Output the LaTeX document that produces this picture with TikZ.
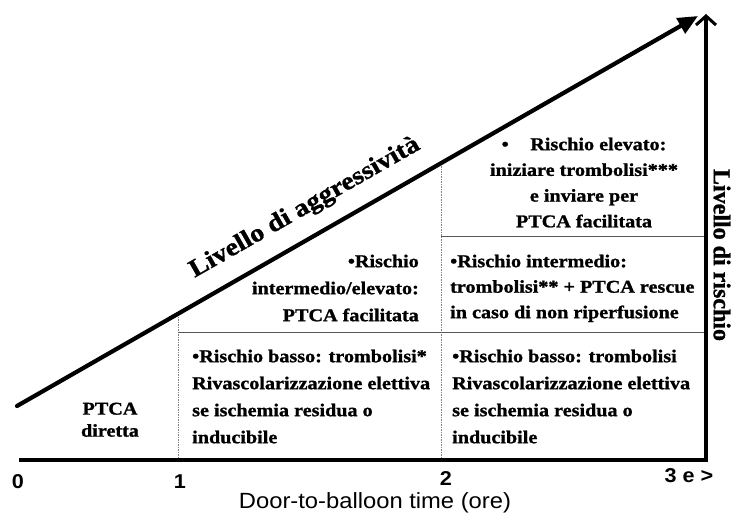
\documentclass[tikz,border=0pt]{standalone}
\usepackage{fontspec}
\setmainfont{Liberation Serif}[FakeStretch=1.12, BoldFeatures={FakeBold=1.2}]
\newfontfamily\vserif{Liberation Serif}[BoldFeatures={FakeBold=1.2}]
\newfontfamily\sansw{Liberation Sans}[FakeStretch=1.08]
\usetikzlibrary{arrows.meta}
\tikzset{
  axisline/.style={line width=3.6pt},
  gridline/.style={line width=0.9pt, black!65},
  dotgrid/.style={line width=0.8pt, black!50, dash pattern=on 1.5pt off 1pt},
  txt/.style={inner sep=0pt, font=\bfseries\fontsize{18}{27}\selectfont},
  ticklab/.style={inner sep=0pt, font=\sansw\bfseries\fontsize{20}{24}\selectfont},
  biglab/.style={inner sep=0pt, font=\bfseries\fontsize{25}{28}\selectfont}
}
\begin{document}
\begin{tikzpicture}[x=1pt,y=-1pt]
\useasboundingbox (0,0) rectangle (733,513);
% key points
\coordinate (o) at (19,460);
\coordinate (c) at (706,460);
\coordinate (vt) at (706,14);
\coordinate (ds) at (17,406);
\coordinate (dt) at (698,16);
\coordinate (d1) at (178,314);
\coordinate (b1) at (178,460);
\coordinate (d2) at (441,164);
\coordinate (b2) at (441,460);
\coordinate (h1l) at (178,332);
\coordinate (h1r) at (706,332);
\coordinate (h2l) at (441,236);
\coordinate (h2r) at (706,236);
% grid lines
\draw[dotgrid] (d1) -- (b1);
\draw[dotgrid] (d2) -- (b2);
\draw[gridline] (h1l) -- (h1r);
\draw[gridline] (h2l) -- (h2r);
% axes
\draw[axisline, -{Straight Barb[length=9pt,width=20pt,line width=3pt]}] (o) -- (c) -- (vt);
\draw[line width=4.2pt, line cap=round, -{Triangle[length=20pt,width=17pt]}] (ds) -- (dt);
% labels
\node[biglab, rotate=29.7] (aggr) at (305,208) {Livello di aggressività};
\node[biglab, font=\vserif\bfseries\fontsize{24}{28}\selectfont, rotate=-90] (risk) at (722,255) {Livello di rischio};
\node[txt, font=\bfseries\fontsize{18}{22}\selectfont, align=center, anchor=north] (pd) at (110,402.5) {PTCA\\diretta};
\node[txt, align=right, anchor=north east] (ie) at (419,254.5) {•Rischio\\intermedio/elevato:\\PTCA facilitata};
\node[txt, align=left, anchor=north west] (bl) at (192,349.5) {•Rischio basso: trombolisi*\\Rivascolarizzazione elettiva\\se ischemia residua o\\inducibile};
\node[txt, align=left, anchor=north west] (br) at (452,349.5) {•Rischio basso: trombolisi\\Rivascolarizzazione elettiva\\se ischemia residua o\\inducibile};
\node[txt, font=\bfseries\fontsize{18}{25.5}\selectfont, align=left, anchor=north west] (im) at (450,254.5) {•Rischio intermedio:\\trombolisi** + PTCA rescue\\in caso di non riperfusione};
\node[txt, font=\bfseries\fontsize{18}{25.7}\selectfont, align=center, anchor=north] (el) at (584,137.5) {•\hspace{1.2em}Rischio elevato:\\iniziare trombolisi***\\e inviare per\\PTCA facilitata};
% ticks
\node[ticklab] (t0) at (18,482) {0};
\node[ticklab] (t1) at (180,482) {1};
\node[ticklab] (t2) at (446,479) {2};
\node[ticklab] (t3) at (689,476) {3 e >};
\node[inner sep=0pt, font=\sansw\fontsize{22}{26}\selectfont] (xl) at (375,503) {Door-to-balloon time (ore)};
\end{tikzpicture}
\end{document}
